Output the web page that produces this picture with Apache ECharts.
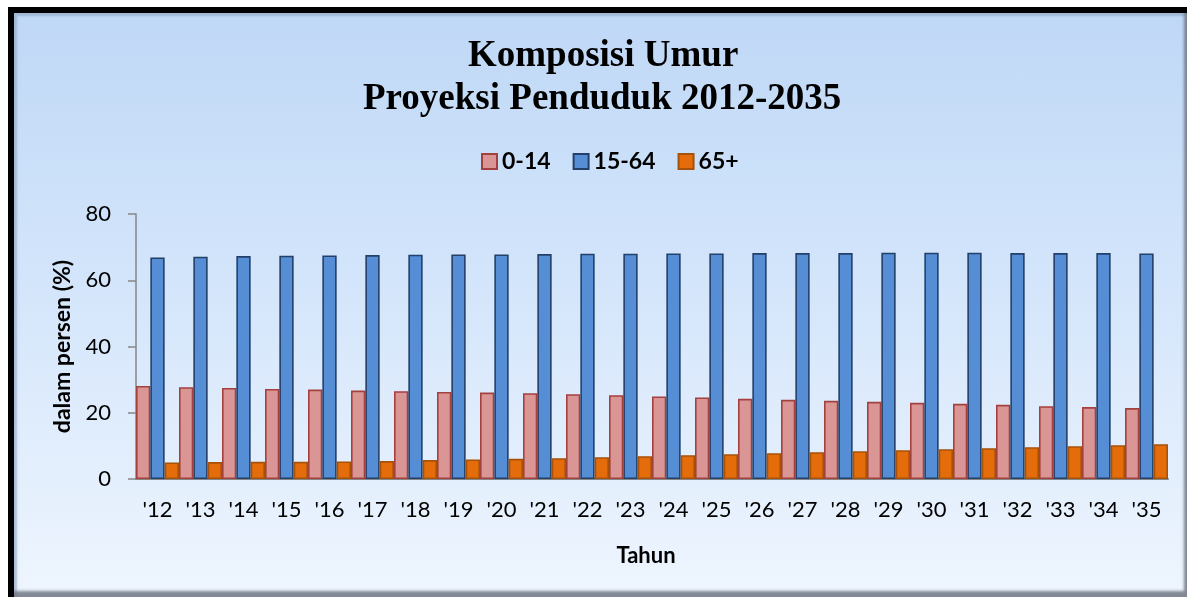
<!DOCTYPE html>
<html>
<head>
<meta charset="utf-8">
<script src="https://cdn.jsdelivr.net/npm/echarts@6/dist/echarts.min.js"></script>
<style>
  html, body { margin: 0; padding: 0; background: #ffffff; }
  #frame {
    position: absolute; left: 8px; top: 7px; width: 1179px; height: 590px;
    box-sizing: border-box; border-left: 6px solid #000; border-top: 6px solid #000;
  }
  #panel {
    position: absolute; left: 0; top: 0; right: 0; bottom: 0;
    background: linear-gradient(to bottom, #bfd8f6 0%, #d3e5fb 45%, #eef5fe 100%);
    box-shadow: inset -5px -8px 3px -2px rgba(110,118,130,0.85), inset 3px 3px 2px rgba(150,170,200,0.7);
  }
  #chart { position: absolute; left: 0; top: 0; width: 1187px; height: 597px; }
</style>
</head>
<body>
<div id="frame"><div id="panel"></div></div>
<div id="chart"></div>
<script>
const years = ["'12", "'13", "'14", "'15", "'16", "'17", "'18", "'19", "'20", "'21", "'22", "'23",
  "'24", "'25", "'26", "'27", "'28", "'29", "'30", "'31", "'32", "'33", "'34", "'35"]
const age0to14 = [28.1, 27.7, 27.5, 27.2, 27.0, 26.7, 26.5, 26.3, 26.1, 25.9, 25.6, 25.3,
  24.9, 24.6, 24.2, 23.9, 23.6, 23.3, 23.0, 22.7, 22.4, 22.0, 21.7, 21.4]
const age15to64 = [66.9, 67.1, 67.3, 67.4, 67.5, 67.6, 67.7, 67.8, 67.8, 67.9, 68.0, 68.0,
  68.1, 68.1, 68.2, 68.2, 68.2, 68.3, 68.3, 68.3, 68.2, 68.2, 68.2, 68.1]
const age65plus = [5.0, 5.1, 5.2, 5.2, 5.3, 5.4, 5.7, 5.9, 6.1, 6.3, 6.6, 6.9,
  7.2, 7.5, 7.8, 8.1, 8.4, 8.7, 9.0, 9.3, 9.6, 9.9, 10.2, 10.5]

const chart = echarts.init(document.getElementById('chart'))
const sansFont = 'Lato, "Open Sans", sans-serif'
const titleStyle = {
  fontFamily: '"Liberation Serif", "Times New Roman", serif',
  fontSize: 37,
  fontWeight: 'bold',
  color: '#000',
  lineHeight: 43,
}

function barSeries(name, data, fill, edge) {
  return {
    name,
    type: 'bar',
    data,
    barGap: '0%',
    barCategoryGap: '0%',
    itemStyle: { color: fill, borderColor: edge, borderWidth: 1.6 },
  }
}

chart.setOption({
  animation: false,
  backgroundColor: 'transparent',
  // two title lines, each placed so the block sits a bit right of the page centre
  title: [
    { text: 'Komposisi Umur', left: 463, top: 30, textStyle: titleStyle },
    { text: 'Proyeksi Penduduk 2012-2035', left: 358, top: 73, textStyle: titleStyle },
  ],
  legend: {
    data: ['0-14', '15-64', '65+'],
    top: 145,
    left: 476,
    itemWidth: 15,
    itemHeight: 15,
    itemGap: 22,
    icon: 'rect',
    textStyle: { fontFamily: sansFont, fontSize: 23, fontWeight: 'bold', color: '#000' },
  },
  grid: { left: 136, right: 19, top: 214, bottom: 118, containLabel: false },
  xAxis: {
    type: 'category',
    data: years,
    name: 'Tahun',
    nameLocation: 'middle',
    nameGap: 66,
    nameTextStyle: { fontFamily: sansFont, fontSize: 22, fontWeight: 'bold', color: '#000', padding: [0, 12, 0, 0] },
    axisLine: { lineStyle: { color: '#868686', width: 2 } },
    axisTick: { show: false },
    axisLabel: { fontFamily: sansFont, fontSize: 22, color: '#000', margin: 20, interval: 0 },
  },
  yAxis: {
    type: 'value',
    min: 0,
    max: 80,
    interval: 20,
    name: 'dalam persen (%)',
    nameLocation: 'middle',
    nameGap: 62,
    nameTextStyle: { fontFamily: sansFont, fontSize: 23, fontWeight: 'bold', color: '#000' },
    axisLine: { show: true, lineStyle: { color: '#868686', width: 1.5 } },
    axisTick: { show: true, length: 8, lineStyle: { color: '#868686', width: 1.5 } },
    axisLabel: { fontFamily: sansFont, fontSize: 22, color: '#000', margin: 25 },
    splitLine: { show: false },
  },
  series: [
    barSeries('0-14', age0to14, '#d99694', '#a4403e'),
    barSeries('15-64', age15to64, '#558ed5', '#23406a'),
    barSeries('65+', age65plus, '#e46c0a', '#a65208'),
  ],
})
</script>
</body>
</html>
